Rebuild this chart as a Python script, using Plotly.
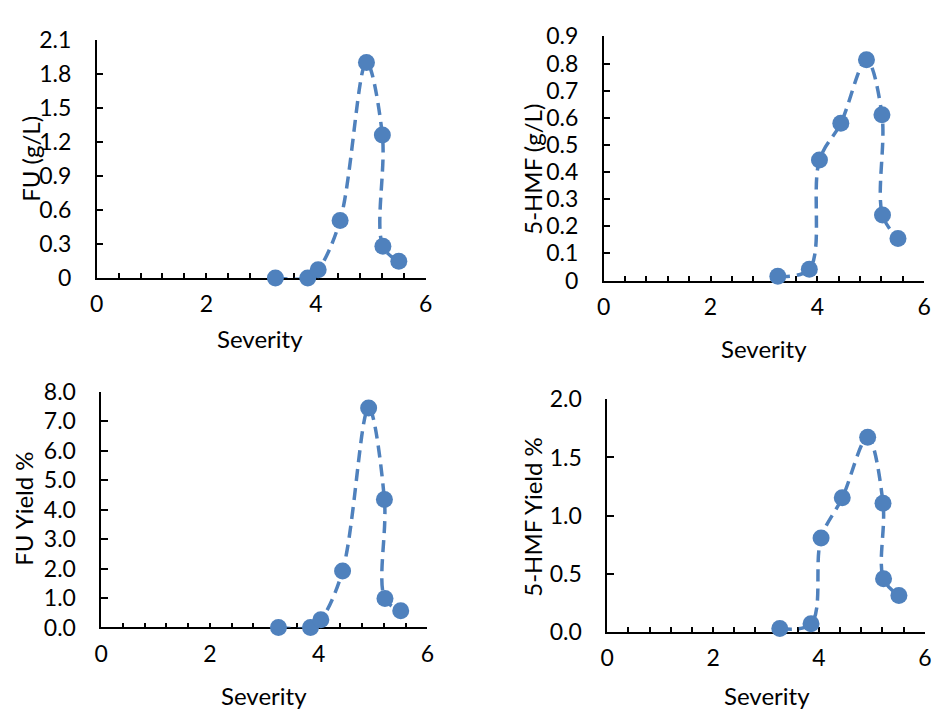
import plotly.graph_objects as go

severity = [3.26, 3.85, 4.04, 4.44, 4.92, 5.21, 5.22, 5.51]
fu_gl = [0.0, 0.0, 0.073, 0.508, 1.90, 1.26, 0.28, 0.147]
hmf_gl = [0.016, 0.042, 0.444, 0.580, 0.814, 0.611, 0.242, 0.155]
fu_yield = [0.0, 0.0, 0.26, 1.92, 7.45, 4.34, 0.98, 0.565]
hmf_yield = [0.028, 0.069, 0.806, 1.153, 1.674, 1.106, 0.455, 0.312]

x_title = "Severity"
y_titles = ["FU (g/L)", "5-HMF (g/L)", "FU Yield %", "5-HMF Yield %"]
y_ranges = [[0, 2.1], [0, 0.9], [0, 8.0], [0, 2.0]]
y_dticks = [0.3, 0.1, 1.0, 0.5]
y_formats = ["", "", ".1f", ".1f"]
series = [fu_gl, hmf_gl, fu_yield, hmf_yield]

W, H = 941, 719
# plot areas in pixels: (left, right, top, bottom)
boxes = [(91, 425, 25.7, 273.7), (605.7, 931, 22.3, 276.3),
         (95.7, 426.7, 392, 637.3), (609.3, 931.7, 400, 641.7)]
ytitle_pos = [(24, 150), (534, 161), (17, 514), (534, 522)]
xtitle_pos = [(257, 337), (768, 347), (261, 708), (771, 708)]

BLUE = "#4F81BD"
FONT = "Lato"
FS = 24
TFS = 23

fig = go.Figure()
layout = dict(width=W, height=H, margin=dict(l=0, r=0, t=0, b=0),
              paper_bgcolor="white", plot_bgcolor="white", showlegend=False,
              font=dict(family=FONT, size=FS, color="black"))
annotations = []
for i in range(4):
    n = "" if i == 0 else str(i + 1)
    l, r, t, b = boxes[i]
    fig.add_trace(go.Scatter(
        x=severity, y=series[i], mode="lines+markers",
        xaxis="x" + n, yaxis="y" + n, cliponaxis=False,
        line=dict(color=BLUE, width=3.5, dash="12px,7px", shape="spline", smoothing=1.0),
        marker=dict(color=BLUE, size=17)))
    layout["xaxis" + n] = dict(
        domain=[l / W, r / W], anchor="y" + n, range=[0, 6], dtick=2,
        showgrid=False, zeroline=False, showline=True, linecolor="black", linewidth=1.5,
        ticks="inside", ticklen=5, tickwidth=1.5, tickcolor="black",
        minor=dict(dtick=0.4, ticks="inside", ticklen=5, tickwidth=1.5, tickcolor="black", showgrid=False),
        ticklabelstandoff=5, layer="below traces", fixedrange=True,
        tickfont=dict(family=FONT, size=TFS, color="black"))
    layout["yaxis" + n] = dict(
        domain=[1 - b / H, 1 - t / H], anchor="x" + n, range=y_ranges[i], dtick=y_dticks[i],
        tickformat=y_formats[i], showgrid=False, zeroline=False, showline=True,
        linecolor="black", linewidth=1.5, ticks="inside", ticklen=7, tickwidth=1.5,
        tickcolor="black", ticklabelstandoff=19, layer="below traces", fixedrange=True,
        tickfont=dict(family=FONT, size=TFS, color="black"))
    tx, ty = ytitle_pos[i]
    annotations.append(dict(text=y_titles[i], x=tx / W, y=1 - ty / H, xref="paper", yref="paper",
                            textangle=-90, showarrow=False, xanchor="center", yanchor="middle",
                            font=dict(family=FONT, size=FS, color="black")))
    sx, sy = xtitle_pos[i]
    annotations.append(dict(text=x_title, x=sx / W, y=1 - sy / H, xref="paper", yref="paper",
                            showarrow=False, xanchor="center", yanchor="middle",
                            font=dict(family=FONT, size=FS, color="black")))
layout["annotations"] = annotations
fig.update_layout(**layout)
fig.write_html("out.html")
